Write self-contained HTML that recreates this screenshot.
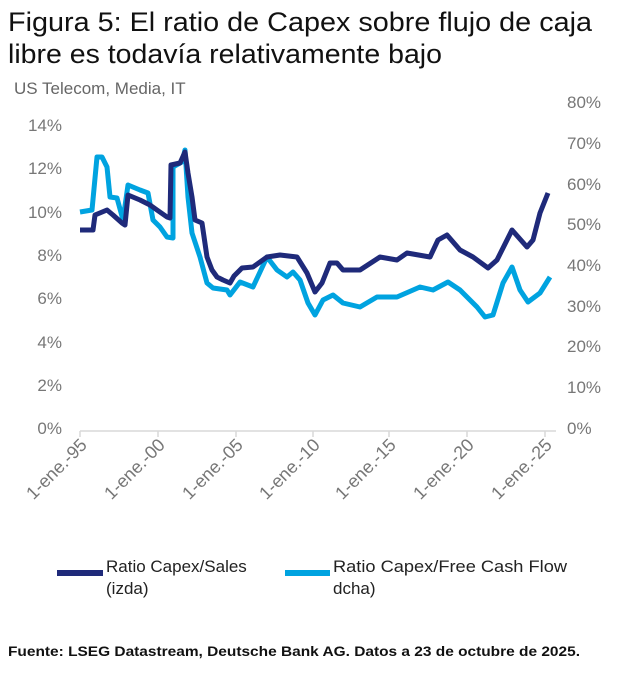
<!DOCTYPE html>
<html><head><meta charset="utf-8"><style>
body{margin:0;background:#fff;width:617px;height:679px;overflow:hidden;font-family:"Liberation Sans",sans-serif;}
</style></head><body>
<svg width="617" height="679" xmlns="http://www.w3.org/2000/svg" font-family="Liberation Sans, sans-serif">
<text x="8" y="31" font-size="27" fill="#111" textLength="584" lengthAdjust="spacingAndGlyphs">Figura 5: El ratio de Capex sobre flujo de caja</text>
<text x="8" y="63" font-size="27" fill="#111" textLength="434" lengthAdjust="spacingAndGlyphs">libre es todavía relativamente bajo</text>
<text x="14" y="94" font-size="17" fill="#666">US Telecom, Media, IT</text>
<g font-size="17" fill="#777" text-anchor="end">
<text x="62" y="131">14%</text><text x="62" y="174">12%</text><text x="62" y="218">10%</text>
<text x="62" y="261">8%</text><text x="62" y="304">6%</text><text x="62" y="348">4%</text>
<text x="62" y="391">2%</text><text x="62" y="434">0%</text>
</g>
<g font-size="17" fill="#777">
<text x="567" y="108">80%</text><text x="567" y="149">70%</text><text x="567" y="190">60%</text>
<text x="567" y="230">50%</text><text x="567" y="271">40%</text><text x="567" y="312">30%</text>
<text x="567" y="352">20%</text><text x="567" y="393">10%</text><text x="567" y="434">0%</text>
</g>
<g stroke="#d9d9d9" stroke-width="1.5">
<line x1="80" y1="431" x2="556" y2="431"/>
<line x1="80" y1="431" x2="80" y2="437"/><line x1="158" y1="431" x2="158" y2="437"/>
<line x1="236" y1="431" x2="236" y2="437"/><line x1="313" y1="431" x2="313" y2="437"/>
<line x1="389" y1="431" x2="389" y2="437"/><line x1="467" y1="431" x2="467" y2="437"/>
<line x1="545" y1="431" x2="545" y2="437"/>
</g>
<g font-size="18" fill="#777" text-anchor="end">
<text transform="translate(88,446) rotate(-45)">1-ene.-95</text>
<text transform="translate(166,446) rotate(-45)">1-ene.-00</text>
<text transform="translate(244,446) rotate(-45)">1-ene.-05</text>
<text transform="translate(321,446) rotate(-45)">1-ene.-10</text>
<text transform="translate(397,446) rotate(-45)">1-ene.-15</text>
<text transform="translate(475,446) rotate(-45)">1-ene.-20</text>
<text transform="translate(553,446) rotate(-45)">1-ene.-25</text>
</g>
<polyline fill="none" stroke="#00a3e0" stroke-width="5" stroke-linejoin="round" points="80,212 92,210 97,157 102,157 107,167 110,197 117,198 123,220 128,185 140,190 148,193 153,220 160,227 167,237 173,238 173,167 182,162 185,150 188,197 192,233 200,257 207,283 213,288 227,290 230,295 240,282 253,287 267,257 277,270 287,277 293,272 300,280 308,303 315,315 323,300 333,295 343,303 360,307 377,297 397,297 420,287 433,290 448,282 460,290 477,307 485,317 493,315 503,283 512,267 520,290 528,302 540,293 550,277"/>
<polyline fill="none" stroke="#1f2a7a" stroke-width="5" stroke-linejoin="round" points="80,230 93,230 95,215 107,210 113,215 122,223 125,225 128,195 140,200 150,205 157,210 167,217 170,218 171,165 180,163 185,152 188,173 192,197 195,220 202,223 207,257 212,270 217,277 223,280 230,283 234,276 242,268 253,267 267,257 280,255 297,257 307,273 315,292 322,283 330,263 337,263 343,270 360,270 380,257 397,260 407,253 430,257 438,240 447,235 460,250 473,257 488,268 497,260 512,230 527,247 533,240 540,213 548,193"/>
<line x1="57" y1="573" x2="103" y2="573" stroke="#1f2a7a" stroke-width="6"/>
<text x="106" y="572" font-size="17" fill="#222">Ratio Capex/Sales</text>
<text x="106" y="594" font-size="17" fill="#222">(izda)</text>
<line x1="285" y1="573" x2="330" y2="573" stroke="#00a3e0" stroke-width="6"/>
<text x="333" y="572" font-size="17" fill="#222" textLength="234" lengthAdjust="spacingAndGlyphs">Ratio Capex/Free Cash Flow</text>
<text x="333" y="594" font-size="17" fill="#222">dcha)</text>
<text x="8" y="656" font-size="14" font-weight="bold" fill="#111" textLength="572" lengthAdjust="spacingAndGlyphs">Fuente: LSEG Datastream, Deutsche Bank AG. Datos a 23 de octubre de 2025.</text>
</svg>
</body></html>
